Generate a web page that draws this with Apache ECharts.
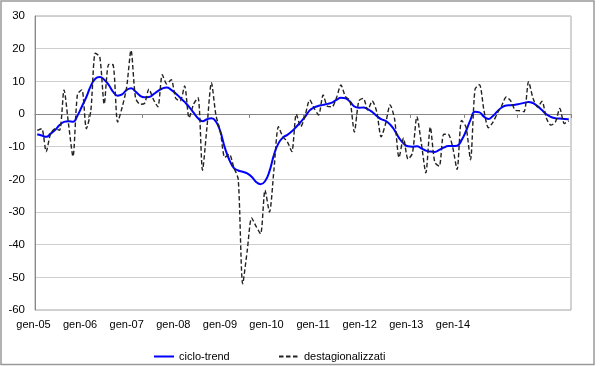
<!DOCTYPE html>
<html><head><meta charset="utf-8">
<script src="https://cdn.jsdelivr.net/npm/echarts@6/dist/echarts.min.js"></script>
<style>html,body{margin:0;padding:0;background:#fff}#c{width:600px;height:366px}</style>
</head><body><div id="c"></div>
<script>
const monthNames = ['gen','feb','mar','apr','mag','giu','lug','ago','set','ott','nov','dic'];
const years = ['05','06','07','08','09','10','11','12','13','14'];
const categories = [];
years.forEach(y => monthNames.forEach(m => categories.push(m + '-' + y)));
const tickLabels = ['gen-05','gen-06','gen-07','gen-08','gen-09','gen-10','gen-11','gen-12','gen-13','gen-14'];
const yTicks = [-60,-50,-40,-30,-20,-10,0,10,20,30];

const cicloTrend = [
-6.2,-6.6,-7.0,-6.0,-4.9,-3.4,-2.4,-2.2,-2.4,-0.5,2.3,5.2,
8.6,10.8,11.3,10.5,8.9,6.8,5.6,6.0,7.3,7.9,6.9,5.6,
5.1,5.2,6.0,7.0,7.8,8.1,7.4,6.3,5.0,3.7,2.2,0.4,
-1.3,-2.2,-1.6,-1.3,-2.3,-5.4,-10.3,-14.0,-16.5,-17.3,-17.7,-18.2,
-19.2,-20.8,-21.5,-20.6,-17.5,-12.5,-9.0,-7.2,-6.4,-5.3,-3.9,-2.4,
-0.8,1.1,2.0,2.5,2.8,3.1,3.5,4.3,5.0,4.8,3.8,2.3,
1.9,2.0,1.5,0.6,-0.6,-1.6,-2.1,-3.2,-5.0,-7.3,-9.0,-9.9,
-10.0,-9.9,-10.5,-11.2,-11.5,-11.6,-11.0,-10.3,-9.8,-9.8,-9.7,-8.0,
-5.2,-1.8,0.7,0.5,-0.8,-1.5,-0.6,0.8,2.0,2.6,2.7,2.8,
3.1,3.4,3.7,3.3,2.4,1.2,-0.1,-0.9,-1.3,-1.4,-1.5,-1.6
];
const destagionalizzati = [
-5,-4.5,-11.5,-6,-4.5,-5,7.4,-3,-13,6,7.4,-4.5,
1,18.6,17.5,3,15.2,15,-2.5,2,8,19.5,5,3,
3.2,7.6,4.5,2.2,12,9.2,10.5,4.8,4,8.6,-1.2,3,
5,-17.2,-4,9.6,-0.3,-5.4,-13.3,-12.3,-16.3,-20,-52,-42,
-31.8,-34.4,-36.7,-23.3,-30,-17,-3.9,-7,-8.5,-11.5,0,-3.9,
-0.3,4.3,1.7,-0.3,5.8,2.3,2.2,5,8.9,5.3,4.2,-5.5,
4,4.8,1.2,4,0.7,-7,-2.9,2.8,-1.5,-13.3,-7.4,-13.8,
-12,-0.8,-9,-18,-4,-14.8,-16,-6.2,-6.2,-10.1,-17,-2,
-4,-14,7.5,9,1.2,-4.2,-2.6,0.2,2.6,5.2,4,1.2,
1,0.7,9.9,4.8,2.1,3.9,-1.3,-3.4,-2.5,1.7,-2.9,-2.1
];

const chart = echarts.init(document.getElementById('c'), null, {renderer: 'canvas'});
const FONT = '"Liberation Sans", Arial, sans-serif';
chart.setOption({
  animation: false,
  backgroundColor: '#fff',
  graphic: [{
    type: 'rect', shape: {x: 1, y: 1, width: 593, height: 363.5},
    style: {fill: 'none', stroke: '#999', lineWidth: 1.5}, silent: true
  }],
  grid: [
    {left: 35, right: 29, top: 16, bottom: 56, show: true, borderColor: '#a6a6a6', borderWidth: 1},
    {left: 33.5, width: 466, top: 309, height: 1, show: false}
  ],
  legend: [
    {data: ['ciclo-trend'], left: 148, top: 346, itemWidth: 20, itemHeight: 10, itemGap: 0,
     itemStyle: {opacity: 0},
     textStyle: {fontFamily: FONT, fontSize: 11, color: '#000'}},
    {data: ['destagionalizzati'], left: 273, top: 346, itemWidth: 20, itemHeight: 10, itemGap: 0,
     itemStyle: {opacity: 0},
     textStyle: {fontFamily: FONT, fontSize: 11, color: '#000'}}
  ],
  xAxis: [
    {type: 'category', gridIndex: 0, data: categories, boundaryGap: true,
     axisLine: {onZero: true, lineStyle: {color: '#888', width: 1}},
     axisTick: {show: true, interval: 11, length: 4, lineStyle: {color: '#888'}},
     axisLabel: {show: false}, splitLine: {show: false}},
    {type: 'value', gridIndex: 1, min: 0, max: 10, interval: 1,
     axisLine: {show: false}, axisTick: {show: false}, splitLine: {show: false},
     axisLabel: {margin: 9, fontFamily: FONT, fontSize: 11, color: '#000',
       formatter: v => tickLabels[v] || ''}}
  ],
  yAxis: [
    {type: 'value', gridIndex: 0, min: yTicks[0], max: yTicks[yTicks.length - 1], interval: 10,
     axisLine: {show: true, lineStyle: {color: '#888'}}, axisTick: {show: false},
     splitLine: {show: true, lineStyle: {color: '#cfcfcf', width: 1}},
     axisLabel: {margin: 10, fontFamily: FONT, fontSize: 11.5, color: '#000'}},
    {type: 'value', gridIndex: 1, show: false, min: 0, max: 1}
  ],
  series: [
    {name: 'ciclo-trend', type: 'line', xAxisIndex: 0, yAxisIndex: 0, data: cicloTrend,
     smooth: 0.5, symbol: 'none', lineStyle: {color: '#0000ff', width: 2}, itemStyle: {color: '#0000ff'}, z: 3},
    {name: 'destagionalizzati', type: 'line', xAxisIndex: 0, yAxisIndex: 0, data: destagionalizzati,
     smooth: 0.25, symbol: 'none', lineStyle: {color: '#222', width: 1.4, type: [4.5, 2.5]}, itemStyle: {color: '#222'}, z: 4}
  ]
});
</script></body></html>
